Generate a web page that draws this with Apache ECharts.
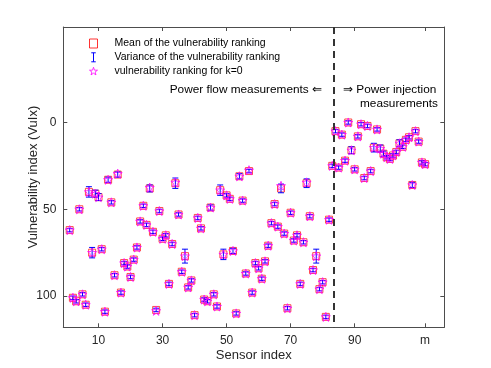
<!DOCTYPE html>
<html>
<head>
<meta charset="utf-8">
<title>Vulnerability index</title>
<script src="https://cdn.jsdelivr.net/npm/echarts@6/dist/echarts.min.js"></script>
<style>
  html, body { margin: 0; padding: 0; background: #fff; }
  #chart { width: 491px; height: 368px; }
</style>
</head>
<body>
<div id="chart"></div>
<script>
// sensor index 1..112, mean ranking
var meanRank = [62, 101, 103, 50, 99, 105, 40, 75, 41, 43,
  73, 109, 33, 46, 88, 30, 98, 81, 83, 89,
  79, 72, 57, 48, 59, 38, 63, 108, 51, 67,
  65, 93, 70, 35, 53, 86, 77, 95, 91, 111,
  55, 61, 102, 103, 49, 99, 106, 39, 76, 42,
  44, 74, 110, 31, 45, 87, 28, 98, 81, 84,
  90, 80, 71, 58, 47, 60, 38, 64, 107, 52,
  68, 65, 93, 69, 35, 54, 85, 77, 96, 92,
  112, 56, 25, 5, 26, 7, 22, 0, 16, 27,
  8, 1, 32, 2, 28, 14.5, 4, 15, 18, 20,
  21, 19, 17, 12, 14, 10, 8.5, 36, 5, 11,
  23, 24];
// half length of the variance bars
var varHalf = [1, 1, 1, 1, 1, 1, 3, 3, 2, 2,
  1, 1, 1.5, 1, 1, 1.5, 1, 1, 1, 1,
  1, 1, 1, 1, 1, 2, 1, 1, 1, 1,
  1, 1, 1, 3, 1, 1, 4, 1, 1, 1,
  1, 1, 1, 1, 1.5, 1, 1, 3, 3, 1,
  1, 1.5, 1, 1.5, 1, 1, 1, 1, 1, 1,
  1, 1, 1, 1, 1, 1, 2.5, 1, 1, 1,
  1, 1, 1, 1, 2.5, 1, 1, 4, 1, 1,
  1, 1, 1, 1, 1, 1, 1, 1, 2, 1,
  1, 1, 1, 1, 1, 2.5, 1, 2, 1.5, 1,
  1, 1, 1, 2, 1, 1, 1, 1.5, 1, 1,
  1, 1];
// ranking for k=0
var k0Rank = [62, 101, 103, 50, 99, 105, 40, 75, 41, 43,
  73, 109, 33, 46, 88, 29.5, 98, 81, 83, 89,
  79, 72, 57, 48, 59, 37.5, 63, 108.5, 51, 67,
  65, 93, 70, 34.5, 53, 86, 77, 95, 91, 111,
  55, 61, 102, 103, 49, 99, 106, 39, 76, 42,
  44, 74, 110, 31, 45, 87, 27.5, 98, 81, 84,
  90, 80, 71, 58, 47, 60, 36.5, 64, 107, 52,
  68, 65, 93, 69, 34.5, 54, 85, 77, 96, 92,
  112, 56, 25, 5, 26, 7, 22, 0, 16, 27,
  8, 1, 32, 2, 28, 14.5, 4, 15, 18, 20,
  21, 19, 17, 12, 14, 10, 8.5, 36, 5, 11,
  23, 24];
var xTicks = [10, 30, 50, 70, 90, 112];
var xTickNames = ['10', '30', '50', '70', '90', 'm'];
var yTicks = [0, 50, 100];
var splitAt = 83.4;
var names = ['Mean of the vulnerability ranking', 'Variance of the vulnerability ranking', 'vulnerability ranking for k=0'];

var starPath = 'path://M10,0 L12.351,6.764 L19.511,6.910 L13.804,11.236 L15.878,18.090 L10,14 L4.122,18.090 L6.196,11.236 L0.489,6.910 L7.649,6.764 Z';
var font = '"Liberation Sans", Arial, Helvetica, sans-serif';

var meanData = [], barData = [], k0Data = [];
for (var i = 0; i < meanRank.length; i++) {
  meanData.push([i + 1, meanRank[i]]);
  barData.push([i + 1, meanRank[i] - varHalf[i], meanRank[i] + varHalf[i]]);
  k0Data.push([i + 1, k0Rank[i]]);
}

var axisCol = '#4d4d4d';
function xAx(pos, labels) {
  return {
    type: 'value', position: pos, min: -1, max: 118,
    axisLine: { show: true, onZero: false, lineStyle: { color: axisCol, width: 1 } },
    axisTick: { show: true, inside: true, length: 4, customValues: xTicks, lineStyle: { color: axisCol } },
    axisLabel: {
      show: labels, customValues: xTicks, margin: 7, color: '#262626', fontSize: 12, fontFamily: font,
      formatter: function (v) { var k = xTicks.indexOf(v); return k >= 0 ? xTickNames[k] : ''; }
    },
    splitLine: { show: false },
    name: labels ? 'Sensor index' : '', nameLocation: 'middle', nameGap: 22, nameMoveOverlap: false,
    nameTextStyle: { color: '#262626', fontSize: 13, fontFamily: font }
  };
}
function yAx(pos, labels) {
  return {
    type: 'value', position: pos, min: -55, max: 118, inverse: true,
    axisLine: { show: true, onZero: false, lineStyle: { color: axisCol, width: 1 } },
    axisTick: { show: true, inside: true, length: 4, customValues: yTicks, lineStyle: { color: axisCol } },
    axisLabel: { show: labels, customValues: yTicks, margin: 7, color: '#262626', fontSize: 12, fontFamily: font },
    splitLine: { show: false },
    name: labels ? 'Vulnerability index (VuIx)' : '', nameLocation: 'middle', nameGap: 23, nameMoveOverlap: false,
    nameTextStyle: { color: '#262626', fontSize: 13, fontFamily: font }
  };
}

var chart = echarts.init(document.getElementById('chart'), null, { renderer: 'canvas' });
chart.setOption({
  animation: false,
  backgroundColor: '#fff',
  grid: { left: 63.3, right: 46.7, top: 27, bottom: 40.7, outerBoundsMode: 'none' },
  xAxis: [xAx('bottom', true), xAx('top', false)],
  yAxis: [yAx('left', true), yAx('right', false)],
  legend: {
    orient: 'vertical', left: 89, top: 38, padding: 0, itemWidth: 8, itemHeight: 9, itemGap: 2.8,
    textStyle: { color: '#000', fontSize: 10.5, fontFamily: font, padding: [0, 0, 0, 12] },
    data: [
      { name: names[0], icon: 'rect', itemStyle: { color: 'rgba(0,0,0,0)', borderColor: '#ff0000', borderWidth: 1 } },
      { name: names[1], icon: 'path://M0,0H8M4,0V16M0,16H8', itemStyle: { color: 'rgba(0,0,0,0)', borderColor: '#0000ff', borderWidth: 1 } },
      { name: names[2], icon: starPath, itemStyle: { color: 'rgba(0,0,0,0)', borderColor: '#ff00ff', borderWidth: 1 } }
    ]
  },
  graphic: [
    { type: 'text', right: 491 - 322, top: 84, style: { text: 'Power flow measurements \u21D0', fontSize: 11.8, fontFamily: font, fill: '#000' } },
    { type: 'text', left: 343, top: 84, style: { text: '\u21D2 Power injection', fontSize: 11.8, fontFamily: font, fill: '#000' } },
    { type: 'text', left: 360, top: 98, style: { text: 'measurements', fontSize: 11.8, fontFamily: font, fill: '#000' } }
  ],
  series: [
    {
      name: names[0], type: 'scatter', data: meanData, symbol: 'rect', symbolSize: 7,
      itemStyle: { color: 'rgba(0,0,0,0)', borderColor: '#ff2020', borderWidth: 1 },
      markLine: {
        silent: true, symbol: 'none', label: { show: false },
        lineStyle: { color: '#333', width: 2, type: [7, 5] },
        data: [{ xAxis: splitAt }]
      },
      z: 2
    },
    {
      name: names[1], type: 'custom', data: barData,
      renderItem: function (params, api) {
        var x = api.value(0);
        var a = api.coord([x, api.value(1)]);
        var b = api.coord([x, api.value(2)]);
        var w = 3;
        var st = { stroke: '#0000ff', lineWidth: 1 };
        return {
          type: 'group', children: [
            { type: 'line', shape: { x1: a[0], y1: a[1], x2: b[0], y2: b[1] }, style: st },
            { type: 'line', shape: { x1: a[0] - w, y1: a[1], x2: a[0] + w, y2: a[1] }, style: st },
            { type: 'line', shape: { x1: b[0] - w, y1: b[1], x2: b[0] + w, y2: b[1] }, style: st }
          ]
        };
      },
      z: 3
    },
    {
      name: names[2], type: 'scatter', data: k0Data, symbol: starPath, symbolSize: 9,
      itemStyle: { color: 'rgba(0,0,0,0)', borderColor: '#ff00ff', borderWidth: 1 },
      z: 4
    }
  ]
});
</script>
</body>
</html>
